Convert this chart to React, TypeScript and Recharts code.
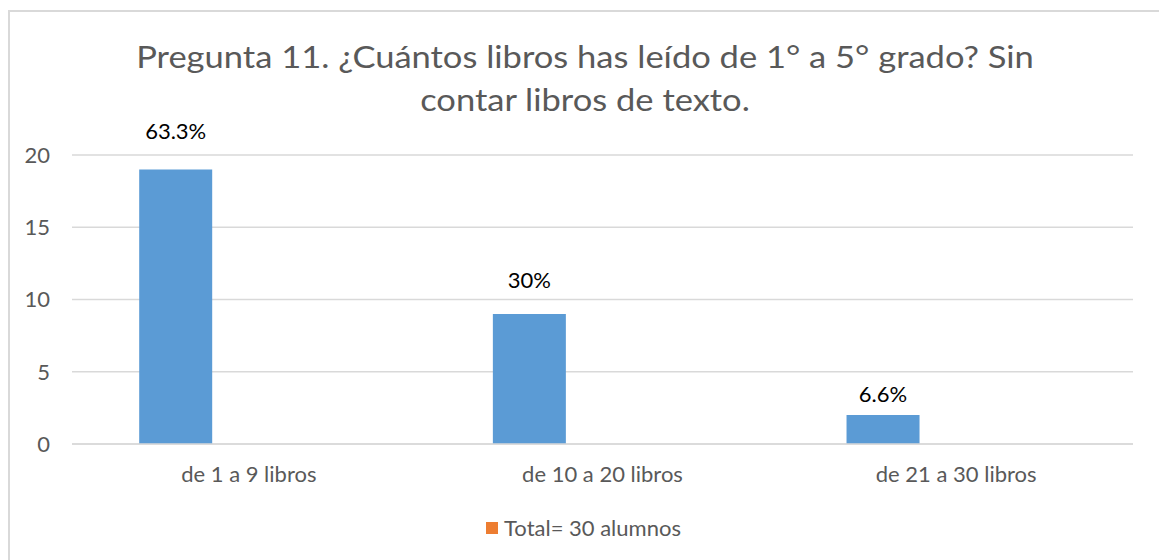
import { BarChart, Bar, XAxis, YAxis, CartesianGrid, Legend, LabelList } from 'recharts'

const categories = ['de 1 a 9 libros', 'de 10 a 20 libros', 'de 21 a 30 libros']
const cantidad = [19, 9, 2]
const porcentajes = ['63.3%', '30%', '6.6%']
const total: (number | null)[] = [null, null, null]
const extra: (number | null)[] = [null, null, null]
const yTicks = [0, 5, 10, 15, 20]
const titleLines = ['Pregunta 11. ¿Cuántos libros has leído de 1° a 5° grado? Sin', 'contar libros de texto.']

const data = categories.map((name, i) => ({
    name,
    cantidad: cantidad[i],
    total: total[i],
    extra: extra[i],
}))

// distance from bar top to label centre, as placed in the original sheet
const labelLift = [39, 34, 22]

const FONT = 'Lato, "Liberation Sans", sans-serif'

const PercentLabel = (props: any) => {
    const { x, y, width, index } = props
    return (
        <text
            x={x + width / 2}
            y={y - labelLift[index]}
            textAnchor="middle"
            dominantBaseline="central"
            fill="#000"
            fontSize={22}
            fontFamily={FONT}
        >
            {porcentajes[index]}
        </text>
    )
}

const LegendContent = () => (
    <div style={{ display: 'flex', justifyContent: 'center', alignItems: 'center', fontFamily: FONT, paddingLeft: 8 }}>
        <span style={{ width: 12, height: 12, background: '#ED7D31', marginRight: 6, display: 'inline-block' }} />
        <span style={{ color: '#595959', fontSize: 22 }}>Total= 30 alumnos</span>
    </div>
)

export default function App() {
    return (
        <div style={{ position: 'fixed', left: 0, top: 0, width: 1159, height: 560, overflow: 'hidden', background: '#fff' }}>
            <div
                style={{
                    position: 'absolute',
                    left: 8,
                    top: 10,
                    width: 1200,
                    height: 600,
                    borderLeft: '2px solid #d9d9d9',
                    borderTop: '2px solid #d9d9d9',
                }}
            />
            <div
                style={{
                    position: 'absolute',
                    left: 85,
                    top: 35,
                    width: 1000,
                    textAlign: 'center',
                    fontFamily: FONT,
                    fontSize: 30,
                    lineHeight: '43px',
                    color: '#595959',
                    whiteSpace: 'nowrap',
                    transform: 'scaleX(1.15)',
                    transformOrigin: '500px 0',
                }}
            >
                {titleLines.map((line) => (
                    <div key={line}>{line}</div>
                ))}
            </div>
            <div style={{ position: 'absolute', left: 0, top: 0 }}>
                <BarChart
                    width={1159}
                    height={560}
                    data={data}
                    margin={{ top: 155, right: 26, left: 32, bottom: 76 }}
                    barCategoryGap="19%"
                    barGap={0}
                >
                    <CartesianGrid vertical={false} stroke="#d9d9d9" strokeWidth={1.5} />
                    <XAxis
                        dataKey="name"
                        axisLine={{ stroke: '#d9d9d9', strokeWidth: 1.5 }}
                        tickLine={false}
                        tickSize={0}
                        tickMargin={22}
                        height={40}
                        tick={{ fill: '#595959', fontSize: 22, fontFamily: FONT }}
                    />
                    <YAxis
                        domain={[0, 20]}
                        ticks={yTicks}
                        axisLine={false}
                        tickLine={false}
                        tickSize={0}
                        tickMargin={22}
                        width={40}
                        tick={{ fill: '#595959', fontSize: 22, fontFamily: FONT }}
                    />
                    <Legend
                        layout="horizontal"
                        verticalAlign="middle"
                        align="center"
                        content={<LegendContent />}
                        wrapperStyle={{ top: 514, left: 0, width: 1159 }}
                    />
                    <Bar dataKey="cantidad" name="cantidad" fill="#5B9BD5" legendType="none" isAnimationActive={false}>
                        <LabelList dataKey="cantidad" content={<PercentLabel />} />
                    </Bar>
                    <Bar dataKey="total" name="Total= 30 alumnos" fill="#ED7D31" isAnimationActive={false} />
                    <Bar dataKey="extra" name="extra" fill="#A5A5A5" legendType="none" isAnimationActive={false} />
                </BarChart>
            </div>
        </div>
    )
}
